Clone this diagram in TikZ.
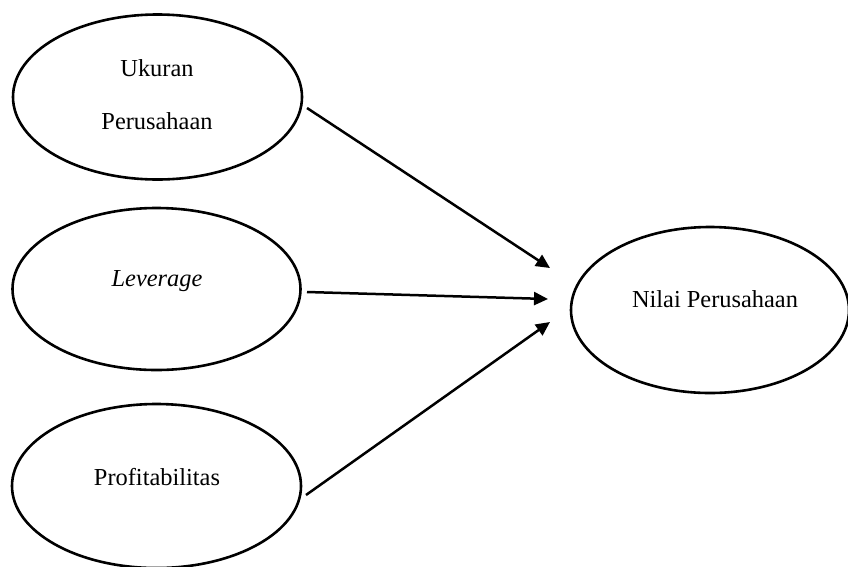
\documentclass[tikz,border=0pt]{standalone}
\usepackage{fontspec}
\setmainfont{Liberation Serif}
\usetikzlibrary{shapes.geometric,arrows.meta}
\begin{document}
\begin{tikzpicture}[x=1pt,y=-1pt,
  var/.style={draw=black,line width=2.6pt,ellipse,inner sep=0pt},
  lbl/.style={inner sep=0pt,align=center,font=\fontsize{24.4}{53}\selectfont},
  arr/.style={line width=2.5pt,-{Triangle[length=14pt,width=13pt]}}]
\useasboundingbox (0,0) rectangle (848,566);
\node[var,minimum width=289pt,minimum height=165pt] (u) at (157.5,97) {};
\node[var,minimum width=288pt,minimum height=162pt] (l) at (156.5,289) {};
\node[var,minimum width=289pt,minimum height=164pt] (p) at (156.5,486) {};
\node[var,minimum width=278pt,minimum height=166pt] (n) at (710,310) {};
\node[lbl] (ut) at (157,95) {Ukuran\\Perusahaan};
\node[lbl] (lt) at (157,281) {\itshape Leverage};
\node[lbl] (pt) at (157,477) {Profitabilitas};
\node[lbl] (nt) at (715,299) {Nilai Perusahaan};
\coordinate (u1) at (307,108);
\coordinate (u2) at (550,268);
\coordinate (l1) at (307,292);
\coordinate (l2) at (548,299);
\coordinate (p1) at (306,495);
\coordinate (p2) at (550,322);
\draw[arr] (u1) -- (u2);
\draw[arr] (l1) -- (l2);
\draw[arr] (p1) -- (p2);
\end{tikzpicture}
\end{document}
